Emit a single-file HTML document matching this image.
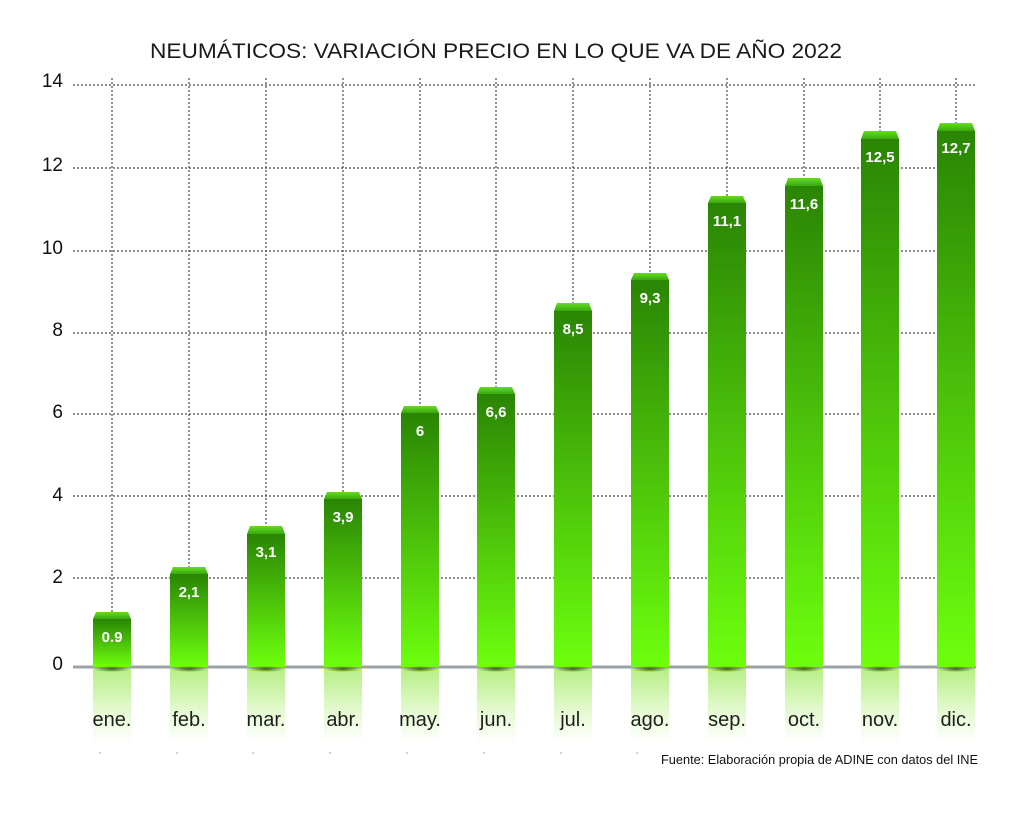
<!DOCTYPE html>
<html>
<head>
<meta charset="utf-8">
<style>
  html,body{margin:0;padding:0;background:#fff;}
  svg{display:block;}
  text{font-family:"Liberation Sans",Arial,sans-serif;}
</style>
</head>
<body>
<svg width="1024" height="825" viewBox="0 0 1024 825" xmlns="http://www.w3.org/2000/svg">
  <defs>
    <linearGradient id="face" x1="0" y1="0" x2="0" y2="1">
      <stop offset="0" stop-color="#2a8504"/>
      <stop offset="0.5" stop-color="#4cc20a"/>
      <stop offset="1" stop-color="#6dff0e"/>
    </linearGradient>
    <linearGradient id="cap" x1="0" y1="0" x2="0" y2="1">
      <stop offset="0" stop-color="#66dc22"/>
      <stop offset="1" stop-color="#3aa80e"/>
    </linearGradient>
    <linearGradient id="refl" x1="0" y1="0" x2="0" y2="1">
      <stop offset="0" stop-color="#b6ee84"/>
      <stop offset="0.5" stop-color="#def8c6"/>
      <stop offset="1" stop-color="#ffffff"/>
    </linearGradient>
    <radialGradient id="shadow" cx="0.5" cy="0.5" r="0.5">
      <stop offset="0" stop-color="#1e4a08" stop-opacity="0.85"/>
      <stop offset="1" stop-color="#1e4a08" stop-opacity="0"/>
    </radialGradient>
  </defs>

  <!-- Title -->
  <text x="150" y="58" font-size="21" fill="#1a1a1a" textLength="692" lengthAdjust="spacingAndGlyphs">NEUMÁTICOS: VARIACIÓN PRECIO EN LO QUE VA DE AÑO 2022</text>

  <!-- Horizontal gridlines -->
  <g stroke="#4a4a4a" stroke-width="1.2" stroke-dasharray="2,2" fill="none">
    <line x1="73" y1="85" x2="976" y2="85"/>
    <line x1="73" y1="168" x2="976" y2="168"/>
    <line x1="73" y1="251" x2="976" y2="251"/>
    <line x1="73" y1="333" x2="976" y2="333"/>
    <line x1="73" y1="414" x2="976" y2="414"/>
    <line x1="73" y1="496" x2="976" y2="496"/>
    <line x1="73" y1="578" x2="976" y2="578"/>
  </g>
  <!-- Vertical gridlines -->
  <g stroke="#4a4a4a" stroke-width="1.2" stroke-dasharray="2,2" fill="none">
    <line x1="112" y1="78" x2="112" y2="665"/>
    <line x1="189" y1="78" x2="189" y2="665"/>
    <line x1="266" y1="78" x2="266" y2="665"/>
    <line x1="343" y1="78" x2="343" y2="665"/>
    <line x1="420" y1="78" x2="420" y2="665"/>
    <line x1="496" y1="78" x2="496" y2="665"/>
    <line x1="573" y1="78" x2="573" y2="665"/>
    <line x1="650" y1="78" x2="650" y2="665"/>
    <line x1="727" y1="78" x2="727" y2="665"/>
    <line x1="804" y1="78" x2="804" y2="665"/>
    <line x1="880" y1="78" x2="880" y2="665"/>
    <line x1="956" y1="78" x2="956" y2="665"/>
  </g>

  <!-- Y labels -->
  <g font-size="19" fill="#111" text-anchor="end">
    <text x="63" y="87">14</text>
    <text x="63" y="171">12</text>
    <text x="63" y="254">10</text>
    <text x="63" y="336">8</text>
    <text x="63" y="418">6</text>
    <text x="63" y="501">4</text>
    <text x="63" y="583">2</text>
    <text x="63" y="670">0</text>
  </g>

  <!-- Reflections -->
  <g fill="url(#refl)">
    <rect x="93" y="668" width="38" height="74"/>
    <rect x="170" y="668" width="38" height="74"/>
    <rect x="247" y="668" width="38" height="74"/>
    <rect x="324" y="668" width="38" height="74"/>
    <rect x="401" y="668" width="38" height="74"/>
    <rect x="477" y="668" width="38" height="74"/>
    <rect x="554" y="668" width="38" height="74"/>
    <rect x="631" y="668" width="38" height="74"/>
    <rect x="708" y="668" width="38" height="74"/>
    <rect x="785" y="668" width="38" height="74"/>
    <rect x="861" y="668" width="38" height="74"/>
    <rect x="937" y="668" width="38" height="74"/>
  </g>

  <!-- Zero line -->
  <line x1="73" y1="667" x2="976" y2="667" stroke="#9aa2a5" stroke-width="3"/>

  <!-- Bars -->
  <g>
    <rect x="93" y="619" width="38" height="48" fill="url(#face)"/>
    <polygon points="96,612 128,612 131,619 93,619" fill="url(#cap)"/>
    <rect x="170" y="574" width="38" height="93" fill="url(#face)"/>
    <polygon points="173,567 205,567 208,574 170,574" fill="url(#cap)"/>
    <rect x="247" y="534" width="38" height="133" fill="url(#face)"/>
    <polygon points="250,526 282,526 285,534 247,534" fill="url(#cap)"/>
    <rect x="324" y="499" width="38" height="168" fill="url(#face)"/>
    <polygon points="327,492 359,492 362,499 324,499" fill="url(#cap)"/>
    <rect x="401" y="413" width="38" height="254" fill="url(#face)"/>
    <polygon points="404,406 436,406 439,413 401,413" fill="url(#cap)"/>
    <rect x="477" y="394" width="38" height="273" fill="url(#face)"/>
    <polygon points="480,387 512,387 515,394 477,394" fill="url(#cap)"/>
    <rect x="554" y="311" width="38" height="356" fill="url(#face)"/>
    <polygon points="557,303 589,303 592,311 554,311" fill="url(#cap)"/>
    <rect x="631" y="280" width="38" height="387" fill="url(#face)"/>
    <polygon points="634,273 666,273 669,280 631,280" fill="url(#cap)"/>
    <rect x="708" y="203" width="38" height="464" fill="url(#face)"/>
    <polygon points="711,196 743,196 746,203 708,203" fill="url(#cap)"/>
    <rect x="785" y="186" width="38" height="481" fill="url(#face)"/>
    <polygon points="788,178 820,178 823,186 785,186" fill="url(#cap)"/>
    <rect x="861" y="139" width="38" height="528" fill="url(#face)"/>
    <polygon points="864,131 896,131 899,139 861,139" fill="url(#cap)"/>
    <rect x="937" y="131" width="38" height="536" fill="url(#face)"/>
    <polygon points="940,123 972,123 975,131 937,131" fill="url(#cap)"/>
  </g>

  <!-- Bottom shadows -->
  <g fill="url(#shadow)">
    <ellipse cx="112" cy="669" rx="18" ry="3"/>
    <ellipse cx="189" cy="669" rx="18" ry="3"/>
    <ellipse cx="266" cy="669" rx="18" ry="3"/>
    <ellipse cx="343" cy="669" rx="18" ry="3"/>
    <ellipse cx="420" cy="669" rx="18" ry="3"/>
    <ellipse cx="496" cy="669" rx="18" ry="3"/>
    <ellipse cx="573" cy="669" rx="18" ry="3"/>
    <ellipse cx="650" cy="669" rx="18" ry="3"/>
    <ellipse cx="727" cy="669" rx="18" ry="3"/>
    <ellipse cx="804" cy="669" rx="18" ry="3"/>
    <ellipse cx="880" cy="669" rx="18" ry="3"/>
    <ellipse cx="956" cy="669" rx="18" ry="3"/>
  </g>

  <!-- Value labels -->
  <g font-size="15" font-weight="bold" fill="#ffffff" text-anchor="middle">
    <text x="112" y="642">0.9</text>
    <text x="189" y="597">2,1</text>
    <text x="266" y="557">3,1</text>
    <text x="343" y="522">3,9</text>
    <text x="420" y="436">6</text>
    <text x="496" y="417">6,6</text>
    <text x="573" y="334">8,5</text>
    <text x="650" y="303">9,3</text>
    <text x="727" y="226">11,1</text>
    <text x="804" y="209">11,6</text>
    <text x="880" y="162">12,5</text>
    <text x="956" y="153">12,7</text>
  </g>

  <!-- Month labels -->
  <g font-size="20" fill="#1e1e1e" text-anchor="middle">
    <text x="112" y="726">ene.</text>
    <text x="189" y="726">feb.</text>
    <text x="266" y="726">mar.</text>
    <text x="343" y="726">abr.</text>
    <text x="420" y="726">may.</text>
    <text x="496" y="726">jun.</text>
    <text x="573" y="726">jul.</text>
    <text x="650" y="726">ago.</text>
    <text x="727" y="726">sep.</text>
    <text x="804" y="726">oct.</text>
    <text x="880" y="726">nov.</text>
    <text x="956" y="726">dic.</text>
  </g>

  <!-- tiny dots -->
  <g fill="#999">
    <circle cx="100" cy="753" r="0.8"/>
    <circle cx="177" cy="753" r="0.8"/>
    <circle cx="253" cy="753" r="0.8"/>
    <circle cx="330" cy="753" r="0.8"/>
    <circle cx="407" cy="753" r="0.8"/>
    <circle cx="484" cy="753" r="0.8"/>
    <circle cx="561" cy="753" r="0.8"/>
    <circle cx="637" cy="753" r="0.8"/>
  </g>

  <!-- Source -->
  <text x="661" y="764" font-size="13" fill="#111" textLength="317" lengthAdjust="spacingAndGlyphs">Fuente: Elaboración propia de ADINE con datos del INE</text>
</svg>
</body>
</html>
